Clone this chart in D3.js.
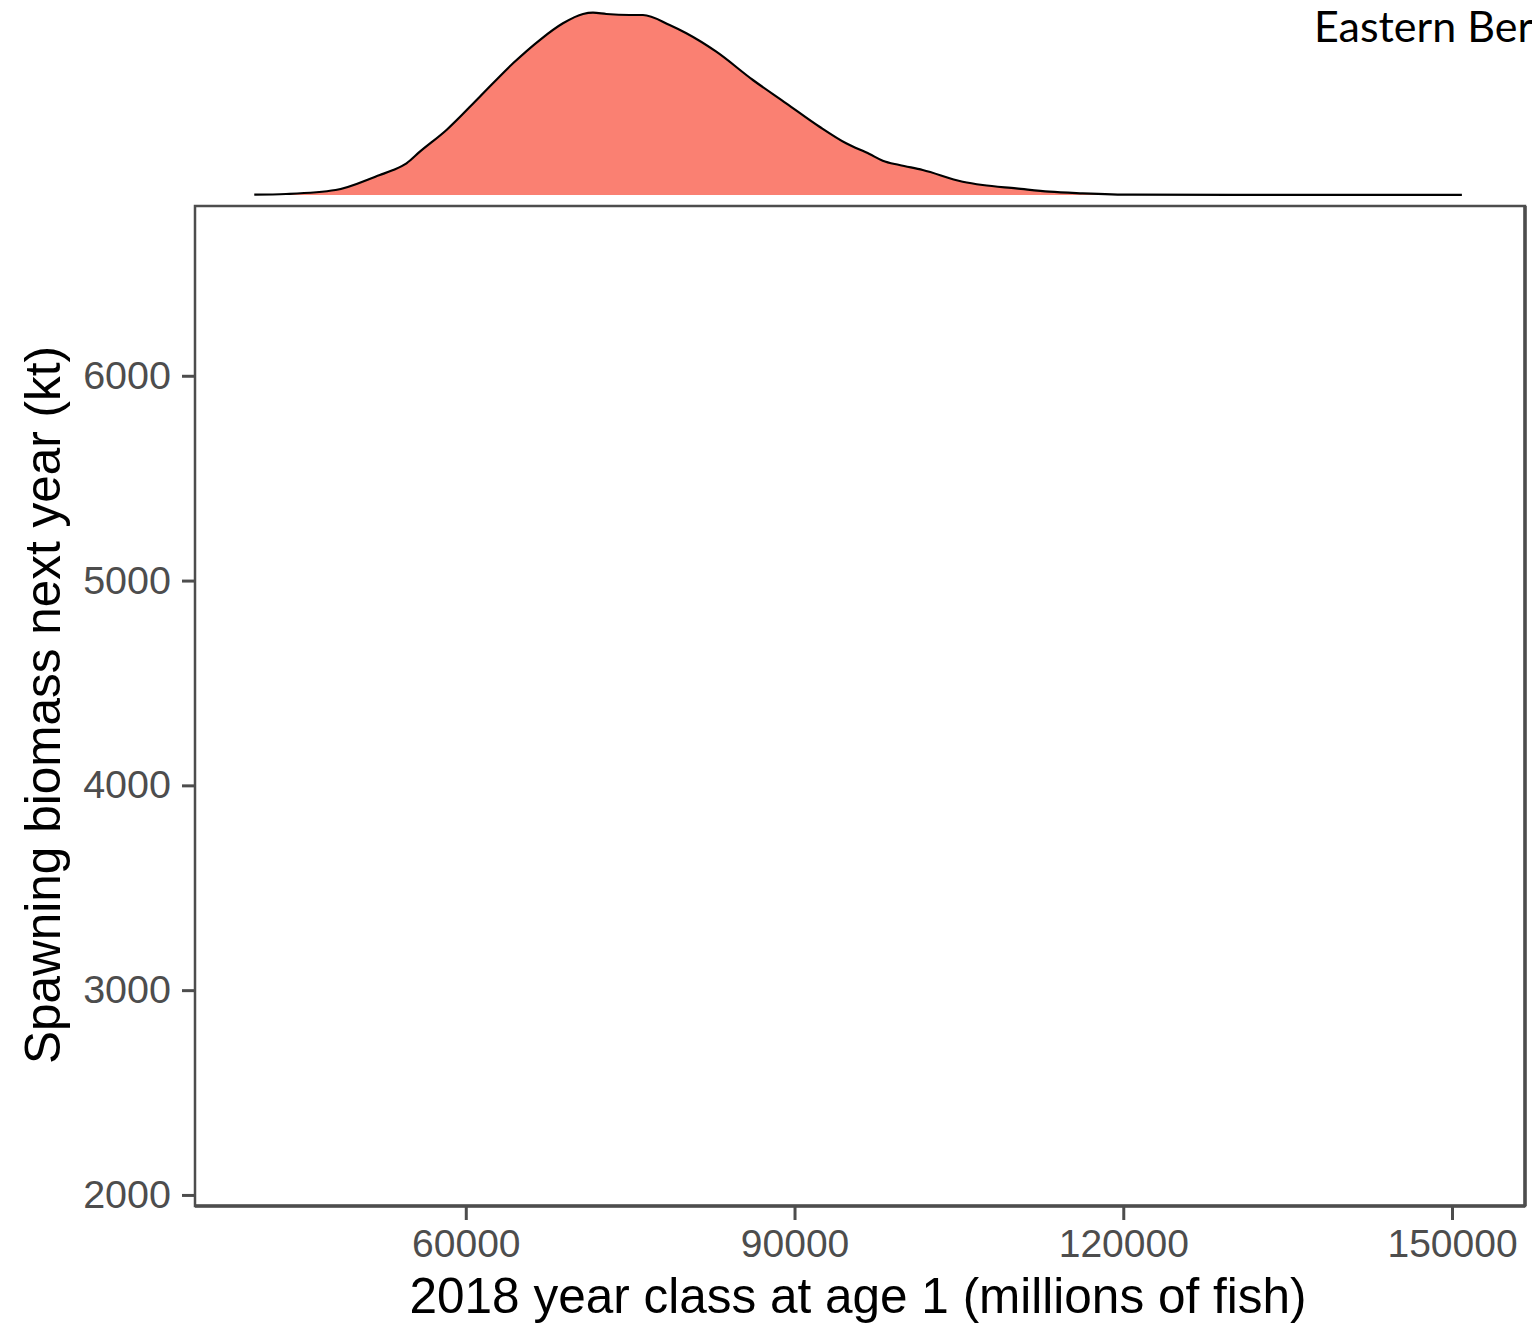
<!DOCTYPE html>
<html>
<head>
<meta charset="utf-8">
<script src="https://cdn.jsdelivr.net/npm/d3@7"></script>
<style>
  html, body { margin: 0; padding: 0; background: #fff; overflow: hidden; }
  svg { display: block; }
</style>
</head>
<body>
<svg id="chart" width="1532" height="1326"></svg>
<script>
// ---- data ----
const xTicks = [60000, 90000, 120000, 150000];
const yTicks = [2000, 3000, 4000, 5000, 6000];
const xDomain = [35290, 156660];
const yDomain = [1946, 6829];
const xLabel = "2018 year class at age 1 (millions of fish)";
const yLabel = "Spawning biomass next year (kt)";
const titleText = "Eastern Ber";
// marginal density of the 2018 year class (density x 1e-5)
const densX = [40700, 43590, 48120, 52160, 53370, 54590, 55810, 58240, 61280, 64310, 66750, 68870,
               70700, 71610, 72830, 74950, 76170, 78600, 80130, 82860, 86200, 89240, 92280, 94710,
               96840, 98050, 99570, 101700, 105350, 107170, 110220, 113250, 116290, 120850, 130000,
               140000, 150900];
const densY = [0.005, 0.018, 0.09, 0.363, 0.453, 0.575, 0.785, 1.179, 1.782, 2.388, 2.810, 3.113,
               3.282, 3.305, 3.282, 3.264, 3.264, 3.082, 2.932, 2.598, 2.085, 1.663, 1.238, 0.937,
               0.743, 0.622, 0.544, 0.453, 0.241, 0.181, 0.121, 0.060, 0.031, 0.006, 0.003,
               0.002, 0.001];

// ---- layout ----
const svg = d3.select("#chart");
const panel = { left: 195, right: 1525, top: 206, bottom: 1206 };
const axisColor = "#4d4d4d";

const x = d3.scaleLinear().domain(xDomain).range([panel.left, panel.right]);
const y = d3.scaleLinear().domain(yDomain).range([panel.bottom, panel.top]);
const yd = d3.scaleLinear().domain([0, 3.3]).range([195, 13]);

const dens = densX.map((v, i) => ({ x: v, d: densY[i] }));

// density area
svg.append("path")
  .datum(dens)
  .attr("fill", "#FA8072")
  .attr("d", d3.area().x(p => x(p.x)).y0(yd(0)).y1(p => yd(p.d)).curve(d3.curveMonotoneX));
svg.append("path")
  .datum(dens)
  .attr("fill", "none")
  .attr("stroke", "#000")
  .attr("stroke-width", 2.2)
  .attr("d", d3.line().x(p => x(p.x)).y(p => yd(p.d)).curve(d3.curveMonotoneX));

// panel border
svg.append("rect")
  .attr("x", panel.left).attr("y", panel.top)
  .attr("width", panel.right - panel.left).attr("height", panel.bottom - panel.top)
  .attr("fill", "none").attr("stroke", axisColor).attr("stroke-width", 2.5);
svg.append("line")
  .attr("x1", panel.right).attr("x2", panel.right)
  .attr("y1", panel.top).attr("y2", panel.bottom)
  .attr("stroke", axisColor).attr("stroke-width", 3.5);
svg.append("line")
  .attr("x1", panel.left).attr("x2", panel.right)
  .attr("y1", panel.bottom).attr("y2", panel.bottom)
  .attr("stroke", axisColor).attr("stroke-width", 3.5);

// x axis
const xAxis = svg.append("g")
  .attr("transform", `translate(0,${panel.bottom})`)
  .call(d3.axisBottom(x).tickValues(xTicks).tickFormat(d3.format("d")).tickSize(14).tickPadding(9));
xAxis.select(".domain").remove();
xAxis.selectAll(".tick line").attr("stroke", axisColor).attr("stroke-width", 3);
xAxis.selectAll(".tick text")
  .attr("fill", axisColor)
  .style("font-family", "'Liberation Sans', Arial, sans-serif")
  .style("font-size", "39px");

// y axis
const yAxis = svg.append("g")
  .attr("transform", `translate(${panel.left},0)`)
  .call(d3.axisLeft(y).tickValues(yTicks).tickFormat(d3.format("d")).tickSize(13).tickPadding(11));
yAxis.select(".domain").remove();
yAxis.selectAll(".tick line").attr("stroke", axisColor).attr("stroke-width", 3);
yAxis.selectAll(".tick text")
  .attr("fill", axisColor)
  .style("font-family", "'Liberation Sans', Arial, sans-serif")
  .style("font-size", "39.5px");

// axis titles
svg.append("text")
  .attr("x", (panel.left + panel.right) / 2 - 2)
  .attr("y", 1313)
  .attr("text-anchor", "middle")
  .attr("fill", "#000")
  .style("font-family", "'Liberation Sans', Arial, sans-serif")
  .style("font-size", "49.5px")
  .text(xLabel);

svg.append("text")
  .attr("transform", `translate(60,${(panel.top + panel.bottom) / 2 - 1}) rotate(-90)`)
  .attr("text-anchor", "middle")
  .attr("fill", "#000")
  .style("font-family", "'Liberation Sans', Arial, sans-serif")
  .style("font-size", "49.5px")
  .text(yLabel);

// title (as visible in the reference, truncated at the right edge)
svg.append("text")
  .attr("x", 1314)
  .attr("y", 42)
  .attr("fill", "#000")
  .style("font-family", "Lato, 'Open Sans', sans-serif")
  .style("font-size", "43px")
  .text(titleText);
</script>
</body>
</html>
